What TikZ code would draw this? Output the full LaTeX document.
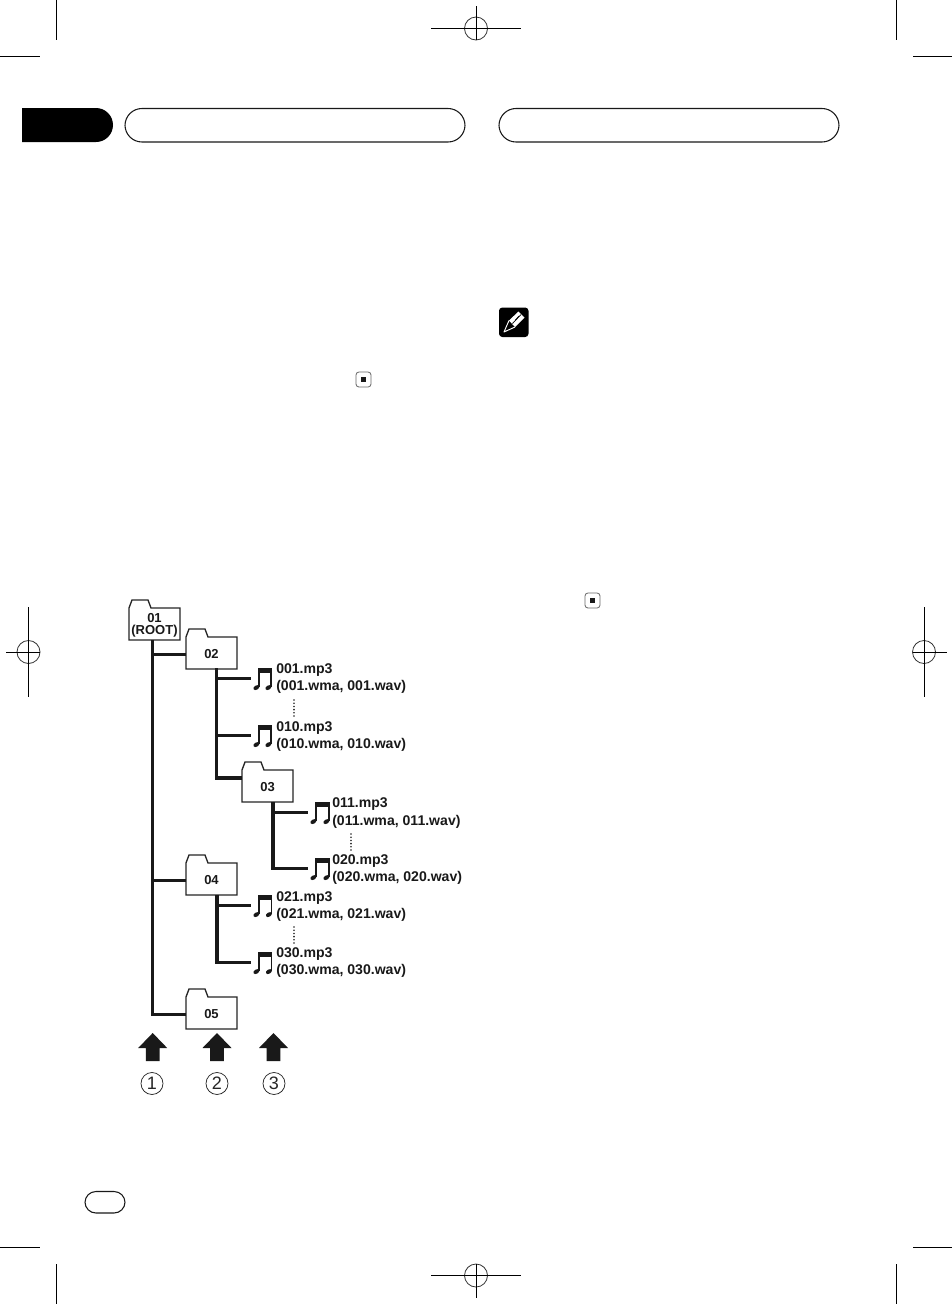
\documentclass[tikz,border=0pt]{standalone}
\usepackage{fontspec}
\setmainfont{Liberation Sans}
\tikzset{
  x=0.75pt,y=-0.75pt,
  wire/.style={line width=2.3pt,draw=black!90,line cap=butt,line join=miter},
  cropline/.style={line width=0.75pt,draw=black},
  regcircle/.style={line width=0.6pt,draw=black!80},
  pill/.style={line width=0.8pt,draw=black!90,rounded corners=12.75pt},
  folderline/.style={line width=1pt,draw=black!85,fill=white,line join=miter},
  foldernode/.style={minimum width=38.25pt,minimum height=15pt,inner sep=0pt,
     font=\bfseries\fontsize{9.75pt}{8.7pt}\selectfont,align=center,text=black!90},
  filetext/.style={inner sep=0pt,anchor=base west,text=black!90,
     font=\bfseries\fontsize{10.55pt}{12pt}\selectfont},
  vdots/.style={line width=1.35pt,draw=black!85,dash pattern=on 0pt off 2.4pt,line cap=round},
  blockarrow/.style={fill=black!90},
  numcircle/.style={circle,draw=black!85,line width=0.55pt,minimum size=16.5pt,inner sep=0pt,
     font=\fontsize{13.5pt}{14pt}\selectfont,text=black!85},
  stopbox/.style={line width=0.6pt,draw=black!60,rounded corners=2.2pt,fill=white}
}
% name, x, tab top y, label
\newcommand{\folderbox}[4]{%
  \begin{scope}[shift={(#2,#3)}]
    \draw[folderline] (0,40) -- (0,8) -- (3,0) -- (19,0) -- (22,8) -- (51,8) -- (51,40) -- cycle;
    \node[foldernode] (#1) at (25.5,25.5) {#4};
  \end{scope}}
% name, stem x, beam top y, stem spacing
\newcommand{\tune}[4]{%
  \begin{scope}[shift={(#2,#3)}]
    \fill[black!90] (-0.7,0) rectangle (#4+0.7,5);
    \draw[black!90,line width=1.05pt] (0,0) -- (0,19);
    \draw[black!90,line width=1.05pt] (#4,0) -- (#4,19);
    \fill[black!90,rotate around={30:(-2.6,19.6)}] (-2.6,19.6) ellipse [x radius=3.3,y radius=2.1];
    \fill[black!90,rotate around={30:(#4-2.6,19.6)}] (#4-2.6,19.6) ellipse [x radius=3.3,y radius=2.1];
    \coordinate (#1) at (-8.5,10.7);
  \end{scope}}
\newcommand{\blockup}[1]{%
  \fill[blockarrow] (#1,1033) -- (#1+14.5,1048) -- (#1+6.8,1048) -- (#1+6.8,1061)
     -- (#1-6.8,1061) -- (#1-6.8,1048) -- (#1-14.5,1048) -- cycle;}
\newcommand{\regmark}[6]{%
  \draw[regcircle] (#1,#2) circle [radius=11.5];
  \draw[cropline] (#3,#2) -- (#4,#2);
  \draw[cropline] (#1,#5) -- (#1,#6);}
\newcommand{\stopmark}[2]{%
  \draw[stopbox] (#1-7.5,#2-7.5) rectangle (#1+7.5,#2+7.5);
  \fill[black!90] (#1-2.6,#2-2.6) rectangle (#1+2.6,#2+2.6);}
\begin{document}
\begin{tikzpicture}
\useasboundingbox (0,0) rectangle (952,1304);
\fill[white] (0,0) rectangle (952,1304);

% crop marks
\draw[cropline] (56.5,0) -- (56.5,40);
\draw[cropline] (0,56.5) -- (40,56.5);
\draw[cropline] (896,0) -- (896,40);
\draw[cropline] (913,56.5) -- (952,56.5);
\draw[cropline] (0,1247.5) -- (40,1247.5);
\draw[cropline] (56.5,1264) -- (56.5,1304);
\draw[cropline] (913,1247.5) -- (952,1247.5);
\draw[cropline] (896,1264) -- (896,1304);
\regmark{476}{28.5}{431}{521}{6}{40}
\regmark{476}{1275.5}{431}{521}{1264}{1298}
\regmark{28.5}{652}{6}{40}{607}{697}
\regmark{924}{652}{913}{947}{607}{697}

% header
\fill[black] (22,108) -- (96,108) arc [start angle=-90,end angle=90,radius=17] -- (22,142) -- cycle;
\draw[pill] (125,108.5) rectangle (465,142);
\draw[pill] (499,108.5) rectangle (839,142);
\draw[line width=0.8pt,draw=black!90,rounded corners=8.2pt] (85,1191.5) rectangle (125,1213);

% note icon
\fill[black,rounded corners=2.5pt] (499,307.5) rectangle (528.5,337);
\fill[white] (509,320.5) -- (518.5,311.5) -- (524.5,317.5) -- (515,327) -- cycle;
\draw[black,line width=0.55pt] (512.5,323.5) -- (521,314.5);
\draw[black,line width=0.55pt] (515.5,320) -- (519,316);
\draw[white,line width=0.7pt,line join=round] (509,320.5) -- (504,332) -- (515,327);

% stop marks
\stopmark{363.5}{379.5}
\stopmark{592.5}{600.5}

% folders
\folderbox{f01}{129}{600}{01\\(ROOT)}
\folderbox{f02}{186}{629}{02}
\folderbox{f03}{242}{762}{03}
\folderbox{f04}{186}{855}{04}
\folderbox{f05}{186}{989}{05}

% notes
\tune{n001}{259}{668}{12}
\tune{n010}{259}{725}{12}
\tune{n011}{316}{802}{13}
\tune{n020}{316}{858}{13}
\tune{n021}{259}{895}{12.5}
\tune{n030}{259}{952}{12.5}

% tree lines
\coordinate (t1) at (152.7,640);
\coordinate (t2) at (216.5,668);
\coordinate (t3) at (273,802);
\coordinate (t4) at (217,895);
\coordinate (f03in) at (242,778);
\draw[wire] (t1) |- (f05.west);
\draw[wire] (t1 |- f02.west) -- (f02.west);
\draw[wire] (t1 |- f04.west) -- (f04.west);
\draw[wire] (t2) |- (f03in);
\draw[wire] (t2 |- n001) -- (n001);
\draw[wire] (t2 |- n010) -- (n010);
\draw[wire] (t3) |- (n020);
\draw[wire] (t3 |- n011) -- (n011);
\draw[wire] (t4) |- (n030);
\draw[wire] (t4 |- n021) -- (n021);

% file labels
\node[filetext] (a1) at (276,673.5) {001.mp3};
\node[filetext] (a2) at (276,690) {(001.wma, 001.wav)};
\node[filetext] (b1) at (276,731.5) {010.mp3};
\node[filetext] (b2) at (276,748.5) {(010.wma, 010.wav)};
\node[filetext] (c1) at (332,807.5) {011.mp3};
\node[filetext] (c2) at (332,825) {(011.wma, 011.wav)};
\node[filetext] (d1) at (332,864.5) {020.mp3};
\node[filetext] (d2) at (332,881.5) {(020.wma, 020.wav)};
\node[filetext] (e1) at (276,901) {021.mp3};
\node[filetext] (e2) at (276,918) {(021.wma, 021.wav)};
\node[filetext] (g1) at (276,957.5) {030.mp3};
\node[filetext] (g2) at (276,974.5) {(030.wma, 030.wav)};

% vertical dots
\draw[vdots] (294,700) -- (294,717);
\draw[vdots] (351,834) -- (351,851);
\draw[vdots] (294,927) -- (294,944);

% level arrows and numbers
\blockup{152.7}
\blockup{217}
\blockup{273.5}
\node[numcircle] (c1n) at (152,1083.5) {1};
\node[numcircle] (c2n) at (217,1083.5) {2};
\node[numcircle] (c3n) at (274,1083.5) {3};
\end{tikzpicture}
\end{document}
